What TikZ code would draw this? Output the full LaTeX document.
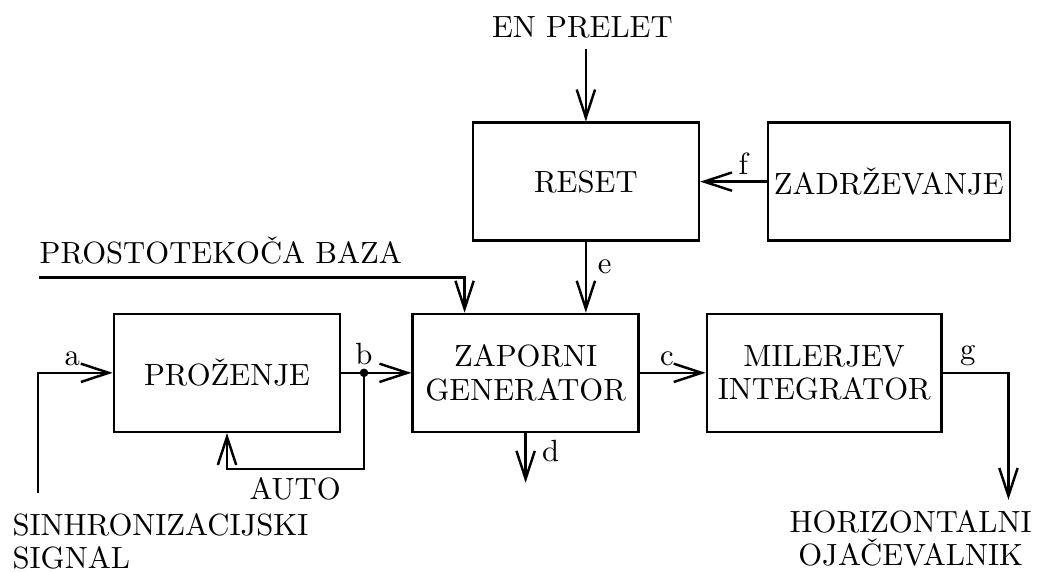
\documentclass[tikz,border=0pt]{standalone}
\usetikzlibrary{arrows.meta}
\tikzset{
  blok/.style   = {draw, line width=0.8pt, minimum height=1.35cm, inner sep=0pt, align=center},
  vod/.style    = {line width=0.8pt, -{Straight Barb[length=3.2mm,width=2.1mm]}},
  oznaka/.style = {inner sep=2pt},
  napis/.style  = {inner sep=0pt},
}

\begin{document}
\begin{tikzpicture}
\useasboundingbox (0,0) rectangle (11.9,-6.54);

% ── Bloki: glavna vrstica na višini Y, zgornja na višini Z ───
\def\Y{-4.27}
\def\Z{-2.08}
\node[blok, minimum width=2.59cm] (prozenje) at (2.60,\Y) {PROŽENJE};
\node[blok, minimum width=2.59cm] (zaporni)  at (6.02,\Y) {ZAPORNI\\[-1pt]GENERATOR};
\node[blok, minimum width=2.69cm] (milerjev) at (9.44,\Y) {MILERJEV\\[-1pt]INTEGRATOR};
\node[blok, minimum width=2.59cm] (reset)    at (6.71,\Z) {RESET};
\node[blok, minimum width=2.77cm] (zadrz)    at (10.18,\Z) {ZADRŽEVANJE};

% ── Zunanji napisi ───────────────────────────────────────────
\node[napis, anchor=base] (enprelet) at (6.67,-0.424) {EN PRELET};
\node[napis, anchor=base west] (baza) at (0.447,-3.02) {PROSTOTEKOČA BAZA};
\node[napis, anchor=base] (auto) at (3.38,-5.725) {AUTO};
\node[napis, anchor=north west, align=left] (sinhr) at (0.137,-5.87)
  {SINHRONIZACIJSKI\\[-1.2pt]SIGNAL};
\node[napis, anchor=north, align=center] (horiz) at (10.43,-5.84)
  {HORIZONTALNI\\[-1.2pt]OJAČEVALNIK};

% ── Proste točke vodov ───────────────────────────────────────
\coordinate (vhoda)    at (0.435,-5.645);
\coordinate (vhodbaza) at (0.447,-3.18);
\coordinate (tockab)   at ([xshift=0.26cm]prozenje.east);
\coordinate (povratna) at ([yshift=-1.10cm]tockab);
\coordinate (izhodd)   at ([yshift=-0.57cm]zaporni.south);
\coordinate (izhodg)   at (11.55,-5.725);

% ── Vodi ─────────────────────────────────────────────────────
\draw[vod] (reset.north |- 0,-0.56) -- (reset.north);
\draw[vod] (zadrz.west) -- (reset.east) node[oznaka, pos=0.35, above] {f};
\draw[vod] (reset.south) -- (reset.south |- zaporni.north)
  node[oznaka, pos=0.35, right, inner sep=3.5pt] {e};
\draw[vod] (vhodbaza) -| ([xshift=0.61cm]zaporni.north west);
\draw[vod] (vhoda) |- (prozenje.west) node[oznaka, pos=0.73, above] {a};
\draw[vod] (prozenje.east) -- (zaporni.west);
\fill (tockab) circle (1.4pt);
\node[oznaka, above, inner sep=2.5pt] (labb) at (tockab) {b};
\draw[vod] (tockab) -- (povratna) -| (prozenje.south);
\draw[vod] (zaporni.east) -- (milerjev.west) node[oznaka, pos=0.41, above] {c};
\draw[vod] (zaporni.south) -- (izhodd) node[oznaka, pos=0.36, right, inner sep=5pt] {d};
\draw[vod] (milerjev.east) -| (izhodg) node[oznaka, pos=0.19, above] {g};

\end{tikzpicture}
\end{document}
